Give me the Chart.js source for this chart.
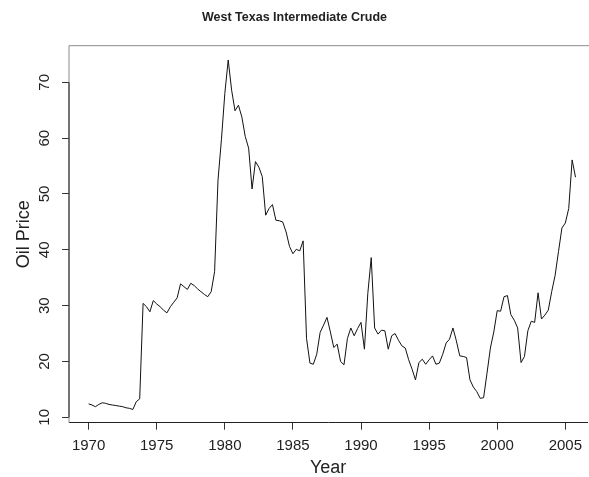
<!DOCTYPE html>
<html>
<head>
<meta charset="utf-8">
<script src="https://cdn.jsdelivr.net/npm/chart.js@4.4.1/dist/chart.umd.min.js"></script>
<style>
	html, body { margin: 0; padding: 0; background: #fff; }
	#container_grafico { width: 589px; height: 477px; }
</style>
</head>
<body>
<div id="container_grafico"><canvas id="grafico_petroleo"></canvas></div>
<script>
// preço trimestral do WTI, 1970 T1 até 2005 T4
var anoInicial = 1970;
var trimestresPorAno = 4;
var precos = [
	12.4, 12.2, 11.9, 12.3,
	12.6, 12.5, 12.3, 12.2,
	12.1, 12.0, 11.9, 11.7,
	11.6, 11.4, 12.8, 13.3,
	30.4, 29.8, 28.9, 30.9,
	30.3, 29.8, 29.2, 28.7,
	29.8, 30.6, 31.4, 33.9,
	33.4, 32.9, 34.0, 33.6,
	33.0, 32.5, 32.0, 31.6,
	32.5, 36.1, 52.5, 59.7,
	68.0, 74.0, 68.6, 64.9,
	65.9, 63.8, 60.3, 58.2,
	50.9, 55.8, 54.8, 53.1,
	46.2, 47.4, 48.1, 45.3,
	45.2, 45.0, 43.2, 40.6,
	39.3, 40.1, 39.8, 41.6,
	24.1, 19.7, 19.5, 21.3,
	25.2, 26.5, 27.9, 25.3,
	22.5, 23.1, 20.0, 19.4,
	24.1, 26.0, 24.6, 25.9,
	27.0, 22.2, 32.2, 38.6,
	26.0, 24.9, 25.6, 25.5,
	22.2, 24.6, 25.0, 23.8,
	22.8, 22.4, 20.3, 18.6,
	16.7, 19.8, 20.4, 19.5,
	20.3, 21.0, 19.5, 19.7,
	21.3, 23.3, 24.0, 26.0,
	23.7, 21.0, 20.9, 20.7,
	16.7, 15.4, 14.6, 13.4,
	13.5, 17.9, 22.4, 25.3,
	29.1, 29.0, 31.6, 31.8,
	28.4, 27.4, 26.0, 19.8,
	20.9, 25.5, 27.2, 27.0,
	32.3, 27.6, 28.3, 29.2,
	32.5, 35.4, 39.7, 43.9,
	44.8, 47.4, 56.1, 53.0
];
var ticksAno = [1970, 1975, 1980, 1985, 1990, 1995, 2000, 2005];
var ticksPreco = [10, 20, 30, 40, 50, 60, 70];
var limitesAno = [1968.56, 2006.61];
var limitesPreco = [9.03, 76.56];

var titulo = "West Texas Intermediate Crude";
var tituloX = "Year";
var tituloY = "Oil Price";

var fonte = "'Liberation Sans', Arial, Helvetica, sans-serif";

var pontos = precos.map(function (valor, i) {
	return { x: anoInicial + i / trimestresPorAno, y: valor };
});

// caixa do gráfico (sem lado direito, fica fora da tela) + rótulos do eixo y girados
var pluginEixos = {
	id: "eixos",
	afterDraw: function (chart) {
		var ctx = chart.ctx;
		var area = chart.chartArea;
		var escalaY = chart.scales.y;

		ctx.save();
		ctx.lineWidth = 1;
		ctx.strokeStyle = "#8a8a8a";
		ctx.beginPath();
		ctx.moveTo(area.left, area.bottom);
		ctx.lineTo(area.left, area.top);
		ctx.lineTo(chart.width, area.top);
		ctx.stroke();

		// linha do eixo y, do primeiro ao último tick
		ctx.strokeStyle = "#222";
		ctx.beginPath();
		ctx.moveTo(area.left, escalaY.getPixelForValue(ticksPreco[0]));
		ctx.lineTo(area.left, escalaY.getPixelForValue(ticksPreco[ticksPreco.length - 1]));
		ctx.stroke();

		ctx.fillStyle = "#222";
		ctx.font = "15px " + fonte;
		ctx.textAlign = "center";
		ctx.textBaseline = "middle";
		ticksPreco.forEach(function (v) {
			ctx.save();
			ctx.translate(area.left - 24, escalaY.getPixelForValue(v));
			ctx.rotate(-Math.PI / 2);
			ctx.fillText(String(v), 0, 0);
			ctx.restore();
		});
		ctx.restore();
	},
};

var config = {
	type: "line",
	data: {
		datasets: [
			{
				label: tituloY,
				data: pontos,
				borderColor: "#111",
				borderWidth: 1,
				pointRadius: 0,
				tension: 0,
				fill: false,
			},
		],
	},
	options: {
		responsive: false,
		animation: false,
		layout: { padding: 0, autoPadding: false },
		plugins: {
			legend: { display: false },
			tooltip: { enabled: false },
			title: {
				display: true,
				text: titulo,
				color: "#222",
				font: { family: fonte, size: 12.5, weight: "bold", lineHeight: 1 },
				padding: { top: 11, bottom: 22.2 },
			},
		},
		scales: {
			x: {
				type: "linear",
				min: limitesAno[0],
				max: limitesAno[1],
				afterBuildTicks: function (escala) {
					escala.ticks = ticksAno.map(function (v) { return { value: v }; });
				},
				afterFit: function (escala) {
					escala.height = 54.3;
				},
				grid: {
					drawOnChartArea: false,
					drawTicks: true,
					tickLength: 7,
					color: "#333",
				},
				border: { display: true, color: "#222", width: 1 },
				ticks: {
					color: "#222",
					font: { family: fonte, size: 15 },
					padding: 7,
					maxRotation: 0,
					autoSkip: false,
					callback: function (v) { return String(v); },
				},
				title: {
					display: true,
					text: tituloX,
					color: "#222",
					font: { family: fonte, size: 18, lineHeight: 1 },
					padding: { top: 0, bottom: 0 },
				},
			},
			y: {
				type: "linear",
				min: limitesPreco[0],
				max: limitesPreco[1],
				afterBuildTicks: function (escala) {
					escala.ticks = ticksPreco.map(function (v) { return { value: v }; });
				},
				afterFit: function (escala) {
					escala.width = 69;
				},
				grid: {
					drawOnChartArea: false,
					drawTicks: true,
					tickLength: 7,
					color: "#333",
				},
				border: { display: false },
				ticks: { display: false },
				title: {
					display: true,
					text: tituloY,
					color: "#222",
					font: { family: fonte, size: 18, lineHeight: 1 },
					padding: { top: 15, bottom: 0 },
				},
			},
		},
	},
	plugins: [pluginEixos],
};

var canvas = document.getElementById("grafico_petroleo");
canvas.width = 589;
canvas.height = 477;
var grafico_petroleo = new Chart(canvas, config);
</script>
</body>
</html>
